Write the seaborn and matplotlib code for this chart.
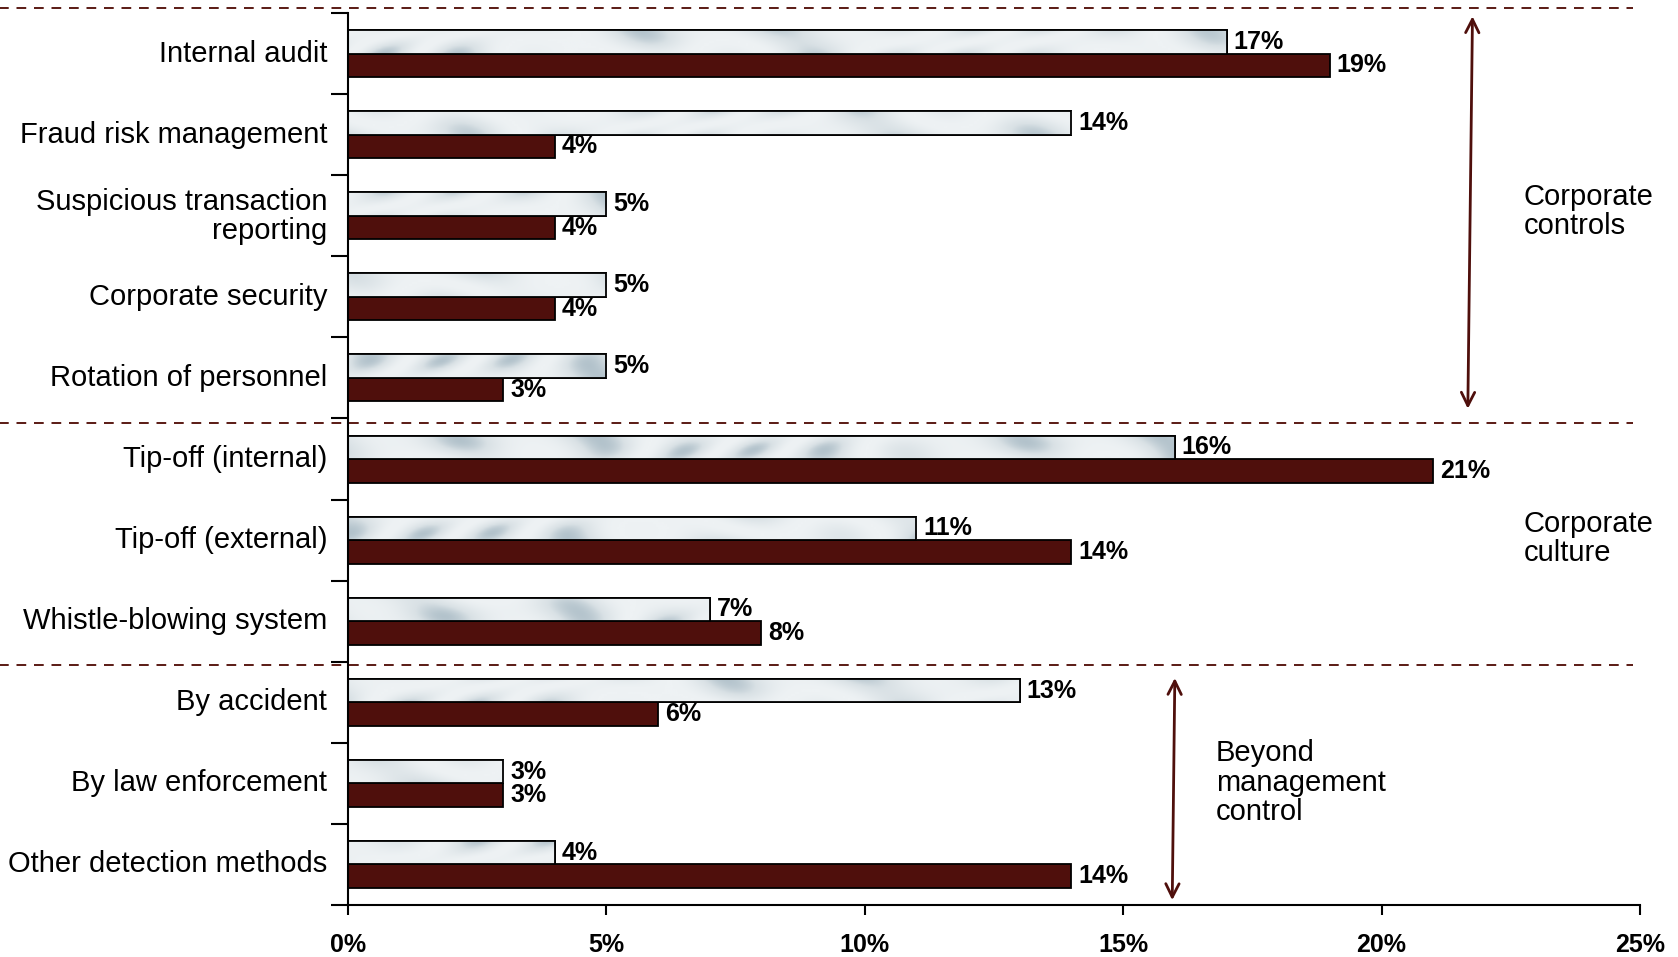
import numpy as np
import pandas as pd
import matplotlib
matplotlib.use('Agg')
import matplotlib.pyplot as plt
import matplotlib.transforms as mtransforms
from matplotlib.colors import LinearSegmentedColormap
from matplotlib.patches import Rectangle
import seaborn as sns

# Data (percent of cases)
methods = ['Internal audit', 'Fraud risk management', 'Suspicious transaction\nreporting',
           'Corporate security', 'Rotation of personnel', 'Tip-off (internal)',
           'Tip-off (external)', 'Whistle-blowing system', 'By accident',
           'By law enforcement', 'Other detection methods']
earlier = [17, 14, 5, 5, 5, 16, 11, 7, 13, 3, 4]
latest = [19, 4, 4, 4, 3, 21, 14, 8, 6, 3, 14]
series = ['Earlier survey', 'Latest survey']
x_ticks = [0, 5, 10, 15, 20, 25]
groups = ['Corporate\ncontrols', 'Corporate\nculture', 'Beyond\nmanagement\ncontrol']

df = pd.DataFrame({
    'method': methods * 2,
    'value': earlier + latest,
    'series': [series[0]] * len(methods) + [series[1]] * len(methods),
})

sns.set_style('white')
plt.rcParams['font.family'] = ['Liberation Sans', 'DejaVu Sans']
plt.rcParams['text.color'] = 'black'
plt.rcParams['xtick.color'] = 'black'
plt.rcParams['ytick.color'] = 'black'
plt.rcParams['axes.edgecolor'] = 'black'

light = '#e3e8ea'
dark = '#4f0f0c'
line_red = '#5a1a14'

fig = plt.figure(figsize=(16.78, 9.57), dpi=100)
ax = fig.add_axes([0.2074, 0.0543, 0.7699, 0.9321])

sns.barplot(data=df, y='method', x='value', hue='series', orient='h',
            palette=[light, dark], saturation=1, width=0.58, edgecolor='black',
            linewidth=1.3, legend=False, ax=ax)

ax.set_xlim(0, 25)
ax.set_ylim(10.5, -0.5)

# marble-like texture for the light bars
xx, yy = np.meshgrid(np.linspace(0, 25, 800), np.linspace(-0.5, 10.5, 400))
marble = np.sin(xx * 1.1 + 2.5 * np.sin(xx * 0.55 + yy * 3.0) + yy * 1.7)
marble = (marble + 0.6 * np.sin(xx * 2.3 - yy * 4.0)) ** 2
cmap = LinearSegmentedColormap.from_list('marble', ['#eef2f4', '#d9e1e5', '#a3b6c1'])
n = len(methods)
for p in ax.patches[:n]:
    im = ax.imshow(marble, extent=[0, 25, 10.5, -0.5], cmap=cmap, aspect='auto',
                   vmin=0, vmax=3.0, zorder=2, interpolation='bilinear')
    im.set_clip_path(p)
    ax.add_patch(Rectangle(p.get_xy(), p.get_width(), p.get_height(), fill=False,
                           edgecolor='black', linewidth=1.3, zorder=3))

# value labels
for container in ax.containers:
    ax.bar_label(container, labels=[f'{int(v)}%' for v in container.datavalues],
                 padding=5, fontsize=18, fontweight='bold', color='black', zorder=4)

# axes styling
for s in ['top', 'right']:
    ax.spines[s].set_visible(False)
ax.spines['left'].set_linewidth(1.5)
ax.spines['bottom'].set_linewidth(1.5)
ax.set_xlabel('')
ax.set_ylabel('')
ax.set_xticks(x_ticks)
ax.set_xticklabels([f'{t}%' for t in x_ticks], fontsize=18, fontweight='bold')
ax.tick_params(axis='x', length=7, width=1.5, pad=13, direction='out', bottom=True)
ax.tick_params(axis='y', which='major', length=0, pad=15, labelsize=21)
ax.set_yticks(np.arange(-0.5, n, 1.0), minor=True)
ax.tick_params(axis='y', which='minor', length=12, width=1.5, left=True, direction='out')
shift = mtransforms.ScaledTranslation(0, 3 / 100, fig.dpi_scale_trans)
for lbl in ax.get_yticklabels():
    lbl.set_horizontalalignment('right')
    lbl.set_linespacing(1.05)
    lbl.set_transform(lbl.get_transform() + shift)

# dashed separators across the figure
trans = ax.get_yaxis_transform()
for yv in [-0.56, 4.56, 7.54]:
    ax.plot([-0.27, 0.995], [yv, yv], transform=trans, color=line_red, lw=1.4,
            ls=(0, (5, 4)), clip_on=False)

# group arrows and labels
arrow = dict(arrowstyle='<->', color=dark, lw=2, mutation_scale=24, shrinkA=0, shrinkB=0)
ax.annotate('', xy=(21.76, -0.46), xytext=(21.67, 4.38), arrowprops=arrow, annotation_clip=False)
ax.annotate('', xy=(16.0, 7.7), xytext=(15.95, 10.44), arrowprops=arrow, annotation_clip=False)
ax.text(22.75, 1.95, groups[0], fontsize=21, va='center', ha='left', linespacing=1.05)
ax.text(22.75, 5.98, groups[1], fontsize=21, va='center', ha='left', linespacing=1.05)
ax.text(16.79, 8.99, groups[2], fontsize=21, va='center', ha='left', linespacing=1.05)

fig.savefig('out.png', dpi=100)
